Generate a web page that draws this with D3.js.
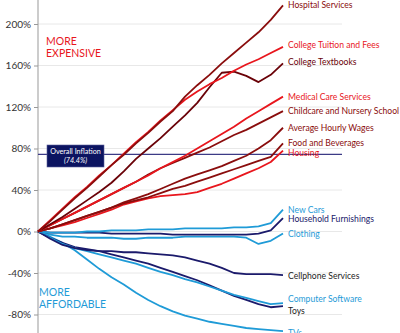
<!DOCTYPE html>
<html>
<head>
<meta charset="utf-8">
<style>
  body { margin: 0; background: #fff; }
  svg { display: block; font-family: Lato, "Open Sans", sans-serif; }
</style>
</head>
<body>
<svg width="400" height="333"></svg>
<script src="https://d3js.org/d3.v7.min.js"></script>
<script>
// price change since start of period, in %
var years = [1998, 1999, 2000, 2001, 2002, 2003, 2004, 2005, 2006, 2007, 2008,
             2009, 2010, 2011, 2012, 2013, 2014, 2015, 2016, 2017, 2018];
var yTicks = [-80, -40, 0, 40, 80, 120, 160, 200];
var overallInflation = 74.4;

var hospital    = [0, 10, 21, 32, 42, 53, 64, 74, 85, 95, 106, 116, 130, 141, 151, 162, 172, 182, 192, 204, 218];
var tuition     = [0, 11, 22, 33, 43, 54, 64, 75, 86, 96, 107, 117, 127, 135, 142, 148, 155, 161, 166, 172, 178];
var textbooks   = [0, 7, 14, 22, 30, 38, 47, 58, 70, 80, 90, 101, 112, 124, 139, 153, 154, 150, 144, 151, 162];
var medical     = [0, 6, 12, 18, 24, 30, 36, 42, 48, 54, 61, 67, 73, 80, 87, 94, 101, 109, 116, 123, 130];
var childcare   = [0, 6, 12, 18, 24, 30, 36, 42, 48, 55, 61, 66, 71, 76, 81, 87, 93, 98, 104, 110, 116];
var wages       = [0, 3, 7, 11, 15, 19, 23, 28, 32, 36, 41, 46, 51, 55, 59, 63, 68, 73, 80, 88, 100];
var food        = [0, 3, 7, 11, 15, 19, 23, 27, 30, 33, 37, 41, 44, 48, 52, 56, 60, 64, 68, 72, 85];
var housing     = [0, 3, 6, 9, 13, 17, 21, 26, 29, 32, 34, 35, 36, 38, 42, 46, 51, 56, 61, 67, 78];
var newCars     = [0, -1, -1, -1, 0, 0, 1, 1, 1, 2, 2, 2, 3, 3, 3, 3, 4, 4, 5, 8, 21];
var furnishings = [0, -1, -1, -1, -1, -1, -2, -2, -2, -2, -2, -3, -3, -3, -3, -3, -3, -3, -2, 1, 13];
var clothing    = [0, -3, -5, -5, -6, -6, -6, -7, -7, -6, -6, -6, -5, -5, -5, -5, -5, -6, -12, -9, -2];
var cellphone   = [0, -7, -13, -16, -18, -19, -19, -20, -20, -21, -22, -23, -25, -28, -31, -35, -40, -41, -41, -41, -42];
var software    = [0, -6, -12, -16, -19, -22, -25, -28, -31, -35, -39, -42, -46, -49, -53, -57, -61, -64, -67, -70, -69];
var toys        = [0, -6, -11, -15, -17, -19, -22, -25, -28, -31, -35, -39, -43, -47, -52, -57, -62, -66, -70, -73, -72];
var tvs         = [0, -5, -11, -18, -27, -36, -44, -51, -59, -66, -72, -77, -81, -84, -87, -89, -91, -93, -94, -95, -96];

var red = "#e8161d", darkRed = "#8a0d0d", maroon = "#6a0208",
    navy = "#1b1a6b", blue = "#1f9bd7", ink = "#222";

// name, values, line colour, label colour, label nudge (px)
var series = [
  ["TVs", tvs, blue, blue, 2],
  ["Toys", toys, navy, ink, 5],
  ["Computer Software", software, blue, blue, -4],
  ["Cellphone Services", cellphone, navy, ink, 1],
  ["Clothing", clothing, blue, blue, 0],
  ["Household Furnishings", furnishings, navy, navy, 1],
  ["New Cars", newCars, blue, blue, 0],
  ["Housing", housing, red, red, 2],
  ["Food and Beverages", food, darkRed, darkRed, 0],
  ["Average Hourly Wages", wages, darkRed, darkRed, 0],
  ["Childcare and Nursery School", childcare, darkRed, darkRed, 0],
  ["Medical Care Services", medical, red, red, 0],
  ["College Textbooks", textbooks, maroon, maroon, -1],
  ["College Tuition and Fees", tuition, red, red, -2],
  ["Hospital Services", hospital, darkRed, darkRed, 0]
];

var svg = d3.select("svg");

var x = d3.scaleLinear().domain([years[0], years[years.length - 1]]).range([38, 283]);
var y = d3.scaleLinear().domain([-80, 200]).range([314.5, 24]);

// gridlines
svg.append("g")
  .selectAll("line")
  .data(yTicks)
  .enter().append("line")
    .attr("x1", 38).attr("x2", 342)
    .attr("y1", function(d) { return y(d); })
    .attr("y2", function(d) { return y(d); })
    .attr("stroke", "#e8e8e8");

// y axis
var yAxis = svg.append("g")
  .attr("transform", "translate(38,0)")
  .call(d3.axisLeft(y).tickValues(yTicks).tickSize(4).tickPadding(3)
        .tickFormat(function(d) { return d + "%"; }));
yAxis.select(".domain").remove();
yAxis.selectAll(".tick line").attr("stroke", "#999");
yAxis.selectAll("text").attr("font-size", 10).attr("fill", "#333")
  .attr("font-family", "Lato, sans-serif");
svg.append("line")
  .attr("x1", 38).attr("x2", 38).attr("y1", 0).attr("y2", 333)
  .attr("stroke", "#999");

// overall inflation
svg.append("line")
  .attr("x1", 38).attr("x2", 342)
  .attr("y1", y(overallInflation)).attr("y2", y(overallInflation))
  .attr("stroke", "#3c3b86").attr("stroke-width", 1.3);

var line = d3.line()
  .x(function(d, i) { return x(years[i]); })
  .y(function(d) { return y(d); });

svg.append("g")
  .selectAll("path")
  .data(series)
  .enter().append("path")
    .attr("d", function(d) { return line(d[1]); })
    .attr("fill", "none")
    .attr("stroke", function(d) { return d[2]; })
    .attr("stroke-width", 1.8)
    .attr("stroke-linejoin", "round");

svg.append("g")
  .selectAll("text")
  .data(series)
  .enter().append("text")
    .attr("x", 288)
    .attr("y", function(d) { return y(d[1][d[1].length - 1]) + d[4]; })
    .attr("dy", "0.35em")
    .attr("font-size", 8.6)
    .attr("fill", function(d) { return d[3]; })
    .text(function(d) { return d[0]; });

// inflation box
var box = svg.append("g").attr("transform", "translate(47,145)");
box.append("rect")
  .attr("width", 57).attr("height", 22)
  .attr("fill", "#0c1461").attr("stroke", "#5a5f9a").attr("stroke-width", 0.6);
box.append("text").attr("x", 28.5).attr("y", 9)
  .attr("text-anchor", "middle").attr("font-size", 7.2).attr("fill", "#fff")
  .text("Overall Inflation");
box.append("text").attr("x", 28.5).attr("y", 18)
  .attr("text-anchor", "middle").attr("font-size", 7.2).attr("fill", "#fff")
  .attr("font-style", "italic")
  .text("(74.4%)");

// annotations
svg.append("text").attr("x", 46).attr("y", 45)
  .attr("font-size", 10.5).attr("fill", red).text("MORE");
svg.append("text").attr("x", 46).attr("y", 56.5)
  .attr("font-size", 10.5).attr("fill", red).text("EXPENSIVE");
svg.append("text").attr("x", 39).attr("y", 296)
  .attr("font-size", 10.5).attr("fill", blue).text("MORE");
svg.append("text").attr("x", 39).attr("y", 307.5)
  .attr("font-size", 10.5).attr("fill", blue).text("AFFORDABLE");
</script>
</body>
</html>
